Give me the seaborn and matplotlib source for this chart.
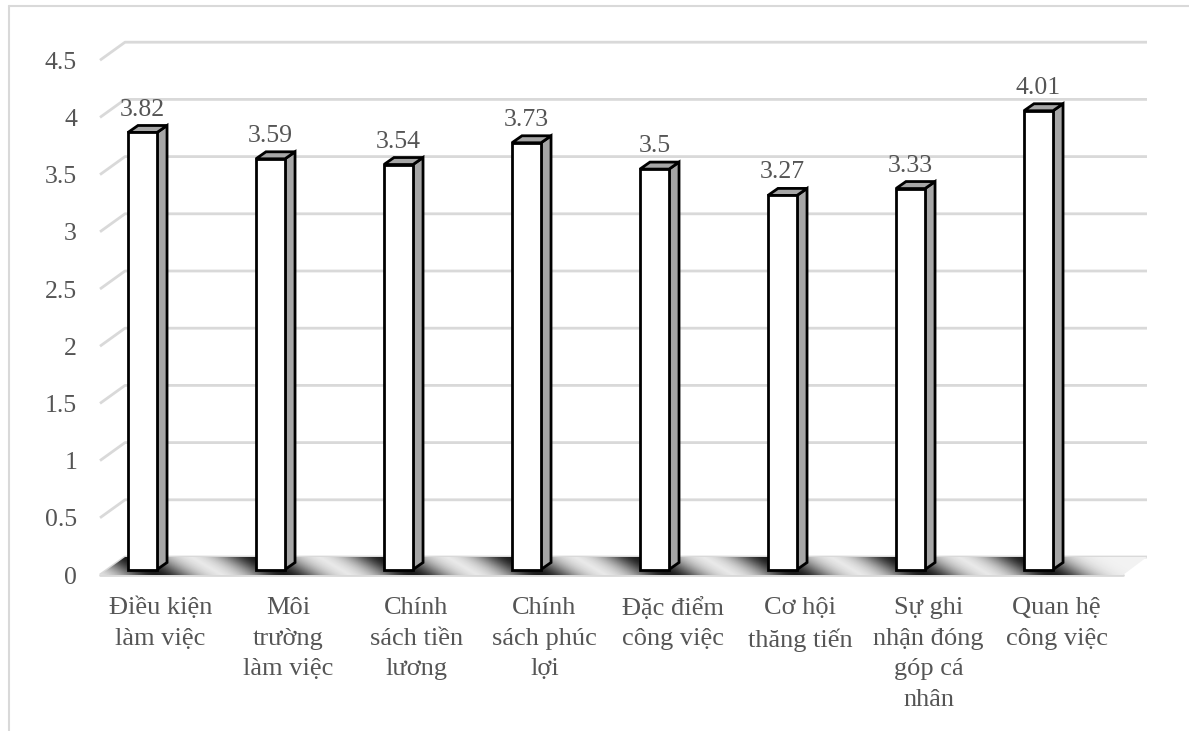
import numpy as np
import matplotlib
matplotlib.use("Agg")
import matplotlib.pyplot as plt
import seaborn as sns
import pandas as pd
from matplotlib.patches import Polygon
from matplotlib.lines import Line2D
from matplotlib.transforms import ScaledTranslation

# ---- data ----
categories = [
    "Điều kiện làm việc", "Môi trường làm việc", "Chính sách tiền lương",
    "Chính sách phúc lợi", "Đặc điểm công việc", "Cơ hội thăng tiến",
    "Sự ghi nhận đóng góp cá nhân", "Quan hệ công việc",
]
tick_labels = [
    "Điều kiện\nlàm việc", "Môi\ntrường\nlàm việc", "Chính\nsách tiền\nlương",
    "Chính\nsách phúc\nlợi", "Đặc điểm\ncông việc", "Cơ hội\nthăng tiến",
    "Sự ghi\nnhận đóng\ngóp cá\nnhân", "Quan hệ\ncông việc",
]
scores = [3.82, 3.59, 3.54, 3.73, 3.5, 3.27, 3.33, 4.01]
y_ticks = [0, 0.5, 1, 1.5, 2, 2.5, 3, 3.5, 4, 4.5]
y_tick_labels = ["0", "0.5", "1", "1.5", "2", "2.5", "3", "3.5", "4", "4.5"]

# ---- style ----
sns.set_theme(style="white")
plt.rcParams["font.family"] = ["Liberation Serif", "DejaVu Serif"]
TEXT = "#555555"
GRID = "#d9d9d9"
SIDE = "#a6a6a6"
FS = 18.5
FS_CAT = 19

W, H, DPI = 1189, 731, 100
fig = plt.figure(figsize=(W / DPI, H / DPI), dpi=DPI)

# pixel layout of the plotting area
PX_CAT = 128.0      # px per category step
PX_VAL = 114.4      # px per value unit
X0, Y0 = 142.5, 569.5   # pixel of (category 0, value 0) on the bar front plane
L, R, T, B = 100, 1150, 30, 580
ax = fig.add_axes([L / W, 1 - B / H, (R - L) / W, (B - T) / H])


def hx(px):
    return px / PX_CAT


def vy(px):
    return px / PX_VAL


# 3-D depth geometry (pixels)
FRONT_DY, BACK_DY = 5.5, 12.5          # floor front below / back above the bar plane
FRONT_L, FRONT_R = 100, 1123
BACK_L, BACK_R = 125, 1147
DEPTH_X, DEPTH_Y = 10, 7                # bar side/top extrusion

fl, fr = hx(FRONT_L - X0), hx(FRONT_R - X0)
bl, br = hx(BACK_L - X0), hx(BACK_R - X0)
fy, by = -vy(FRONT_DY), vy(BACK_DY)

# gridlines on the back wall with the perspective side segment
for v in y_ticks:
    ax.plot([fl, bl, br], [v + fy, v + by, v + by], color=GRID, lw=2,
            zorder=1, solid_capstyle="butt", clip_on=False)
ax.plot([fl, fr], [fy, fy], color=GRID, lw=2, zorder=1, clip_on=False)

# floor
floor = Polygon([[fl, fy], [fr, fy], [br, by], [bl, by]], closed=True,
                facecolor="#f2f2f2", edgecolor="none", zorder=1.5)
ax.add_patch(floor)

df = pd.DataFrame({"category": categories, "score": scores})
sns.barplot(data=df, x="category", y="score", color="white", width=0.227,
            edgecolor="black", linewidth=2, saturation=1, ax=ax, zorder=3)
ax.set_xlim((L - X0) / PX_CAT, (R - X0) / PX_CAT)
ax.set_ylim((Y0 - B) / PX_VAL, (Y0 - T) / PX_VAL)

bars = [p for p in ax.patches if p is not floor]
centers = [p.get_x() + p.get_width() / 2 for p in bars]

# soft shadows cast by the bars on the floor
nx, ny = 1400, 60
xs = np.linspace(fl, br, nx)
ys = np.linspace(fy, by, ny)
XX, YY = np.meshgrid(xs, ys)
t = (by - YY) / (by - fy)           # 0 at back, 1 at front
alpha = np.zeros_like(XX)
for c in centers:
    shift = hx((t - 0.5) * 30)
    d = (XX - (c + shift)) / hx(36)
    alpha = np.maximum(alpha, 0.95 * np.exp(-d ** 2))
img = np.zeros((ny, nx, 4))
img[..., :3] = 0.06
img[..., 3] = alpha
im = ax.imshow(img, extent=[fl, br, fy, by], origin="lower", aspect="auto",
               interpolation="bilinear", zorder=2)
im.set_clip_path(floor)

# extruded sides and tops
ddx, ddy = hx(DEPTH_X), vy(DEPTH_Y)
for p, v in zip(bars, scores):
    x0 = p.get_x()
    x1 = x0 + p.get_width()
    side = Polygon([[x1, 0], [x1 + ddx, ddy], [x1 + ddx, v + ddy], [x1, v]],
                   closed=True, facecolor=SIDE, edgecolor="black", lw=2,
                   joinstyle="miter", zorder=2.9)
    top = Polygon([[x0, v], [x0 + ddx, v + ddy], [x1 + ddx, v + ddy], [x1, v]],
                  closed=True, facecolor=SIDE, edgecolor="black", lw=2,
                  joinstyle="miter", zorder=2.9)
    ax.add_patch(side)
    ax.add_patch(top)
    ax.annotate(f"{v:g}", xy=(x0 + p.get_width() / 2, v), xytext=(0, 16.5),
                textcoords="offset points", ha="center", va="center",
                fontsize=FS, color=TEXT, zorder=4)

# axes text
ax.set_xlabel("")
ax.set_ylabel("")
ax.set_yticks(y_ticks)
ax.set_yticklabels(y_tick_labels, fontsize=FS, color=TEXT)
ax.set_xticks(range(len(categories)))
ax.set_xticklabels(tick_labels, fontsize=FS_CAT, color=TEXT, linespacing=1.52)
ax.tick_params(axis="y", length=0, pad=16.5)
ax.tick_params(axis="x", length=0, pad=12)
for lab in ax.get_yticklabels():
    lab.set_transform(lab.get_transform() + ScaledTranslation(0, -FRONT_DY / DPI, fig.dpi_scale_trans))
for lab in ax.get_xticklabels():
    lab.set_transform(lab.get_transform() + ScaledTranslation(18 / DPI, 0, fig.dpi_scale_trans))
for s in ax.spines.values():
    s.set_visible(False)
ax.grid(False)
ax.patch.set_visible(False)

# chart-area border
fig.add_artist(Line2D([9 / W, 9 / W], [0, 1 - 6 / H], color=GRID, lw=1.5))
fig.add_artist(Line2D([9 / W, 1], [1 - 6 / H, 1 - 6 / H], color=GRID, lw=1.5))

fig.savefig("out.png", dpi=DPI)
